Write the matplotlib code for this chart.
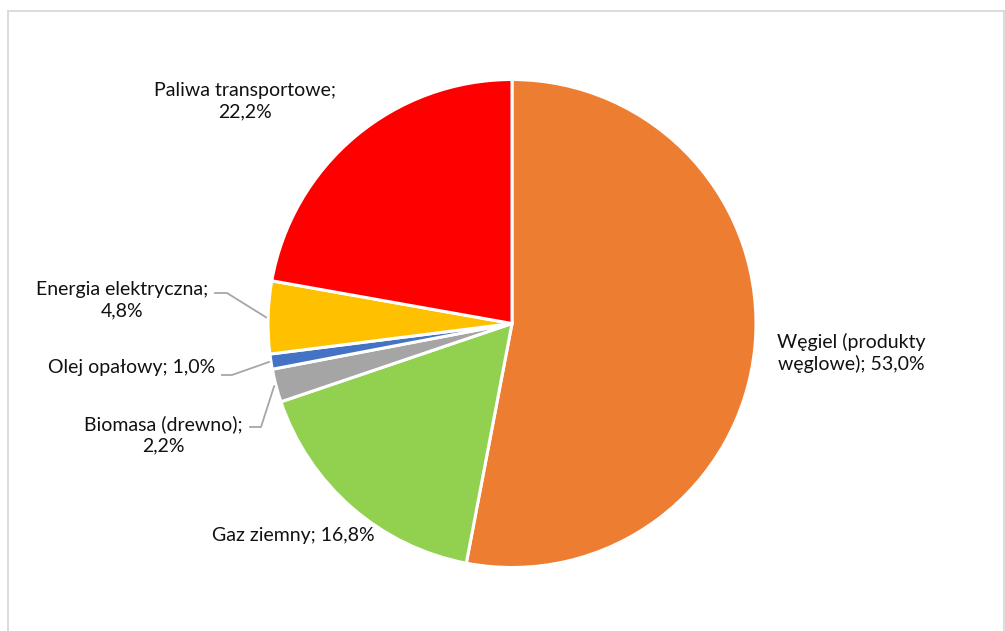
import numpy as np
import matplotlib.pyplot as plt
from matplotlib.lines import Line2D

plt.rcParams['font.family'] = ['Lato', 'DejaVu Sans']

labels = ['Węgiel (produkty\nwęglowe); 53,0%', 'Gaz ziemny; 16,8%', 'Biomasa (drewno);\n2,2%',
          'Olej opałowy; 1,0%', 'Energia elektryczna;\n4,8%', 'Paliwa transportowe;\n22,2%']
values = [53.0, 16.8, 2.2, 1.0, 4.8, 22.2]
colors = ['#ED7D31', '#92D050', '#A5A5A5', '#4472C4', '#FFC000', '#FF0000']

W, H = 1005, 631
fig = plt.figure(figsize=(W / 100, H / 100), dpi=100)
ax = fig.add_axes([0, 0, 1, 1])

cx, cy, r = 512, 323.5, 244
# y axis is inverted, so counterclock=True draws clockwise on screen
wedges, _ = ax.pie(values, colors=colors, startangle=-90, counterclock=True,
                   center=(cx, cy), radius=r, frame=True,
                   wedgeprops=dict(edgecolor='white', linewidth=2.2))
ax.set_xlim(0, W)
ax.set_ylim(H, 0)
ax.set_aspect('equal')
ax.axis('off')

# label layout (text centres, pixels)
label_pos = [(851, 353), (293, 536), (163, 435), (132, 367), (122, 300), (245, 101)]
for lab, (x, y) in zip(labels, label_pos):
    ax.text(x, y, lab, ha='center', va='center', fontsize=14, color='#111111',
            linespacing=1.3)

# leader lines for the small slices: elbow at label side, then to the slice edge
leaders = {2: (250, 261, 427), 3: (222, 232, 375), 4: (215, 227, 293)}
for i, (x0, x1, y0) in leaders.items():
    w = wedges[i]
    mid = np.deg2rad((w.theta1 + w.theta2) / 2)
    ex = cx + (r + 2) * np.cos(mid)
    ey = cy + (r + 2) * np.sin(mid)
    ax.plot([x0, x1, ex], [y0, y0, ey], color='#A6A6A6', lw=1.3)

# chart frame
for xs, ys in [([8, 1004], [11, 11]), ([8, 8], [11, 631]), ([1004, 1004], [11, 631])]:
    ax.add_line(Line2D(xs, ys, color='#D9D9D9', lw=1.3))

fig.savefig('out.png', dpi=100)
